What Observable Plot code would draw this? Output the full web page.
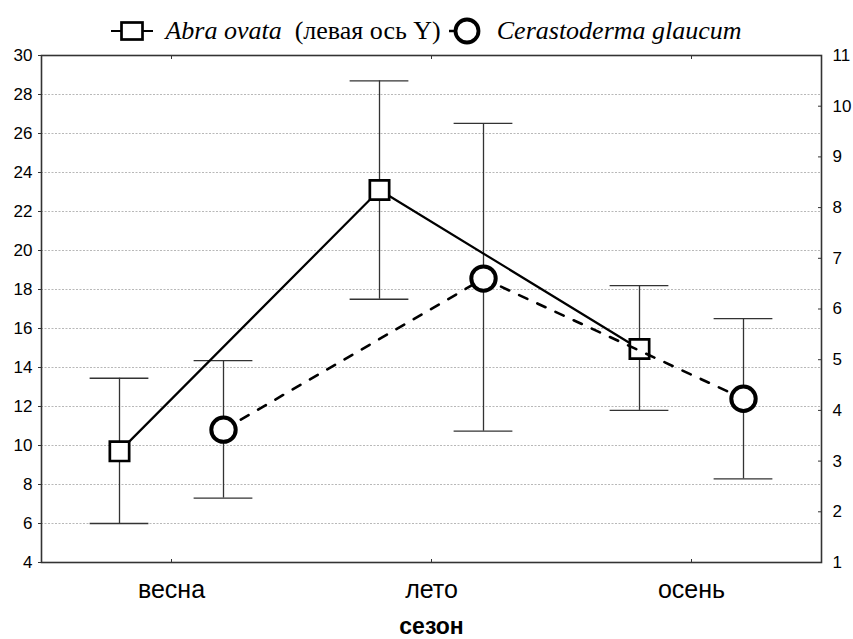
<!DOCTYPE html>
<html>
<head>
<meta charset="utf-8">
<script src="https://cdn.jsdelivr.net/npm/d3@7"></script>
<script src="https://cdn.jsdelivr.net/npm/@observablehq/plot@0.6"></script>
<style>
  html, body { margin: 0; padding: 0; background: #fff; }
  #legend {
    height: 45px; box-sizing: border-box; padding-top: 16px;
    display: flex; align-items: center; justify-content: center;
    font-family: "Liberation Serif", "Times New Roman", serif; font-size: 26px; color: #000;
    white-space: nowrap;
  }
  #legend i { font-style: italic; }
  #legend svg { display: block; }
  #chart svg { display: block; }
</style>
</head>
<body>
<div id="legend"></div>
<div id="chart"></div>
<script>
// ---- data ----
const seasons = ["весна", "лето", "осень"];
// Abra ovata (left Y axis): mean and whiskers
const abraMean = [9.7, 23.1, 14.95];
const abraLow  = [6.0, 17.5, 11.8];
const abraHigh = [13.45, 28.7, 18.2];
// Cerastoderma glaucum (right Y axis): mean and whiskers
const cerMean = [3.62, 6.6, 4.23];
const cerLow  = [2.27, 3.59, 2.65];
const cerHigh = [4.98, 9.66, 5.81];
// tick labels
const leftTicks = [4, 6, 8, 10, 12, 14, 16, 18, 20, 22, 24, 26, 28, 30];
const rightTicks = [1, 2, 3, 4, 5, 6, 7, 8, 9, 10, 11];
const seriesNames = ["Abra ovata", "Cerastoderma glaucum"];

// right axis [1, 11] maps onto left axis [4, 30]
const toLeft = r => 4 + ((r - 1) * 26) / 10;
const toRight = v => Math.round(((v - 4) * 10) / 26 + 1);

const abra = seasons.map((s, i) => ({i, s, mean: abraMean[i], lo: abraLow[i], hi: abraHigh[i]}));
const cer = seasons.map((s, i) => ({i, s, mean: toLeft(cerMean[i]), lo: toLeft(cerLow[i]), hi: toLeft(cerHigh[i])}));

const off = 0.2;    // series offset within a season (band fraction)
const cap = 0.113;  // half-width of whisker caps

const errColor = "#333";
function errorBars(data, dxo) {
  return [
    Plot.ruleX(data, {x: d => d.i + dxo, y1: "lo", y2: "hi", stroke: errColor, strokeWidth: 1.3}),
    Plot.ruleY(data, {y: "hi", x1: d => d.i + dxo - cap, x2: d => d.i + dxo + cap, stroke: errColor, strokeWidth: 1.3}),
    Plot.ruleY(data, {y: "lo", x1: d => d.i + dxo - cap, x2: d => d.i + dxo + cap, stroke: errColor, strokeWidth: 1.3})
  ];
}

const chart = Plot.plot({
  width: 853,
  height: 594,
  marginLeft: 41,
  marginRight: 32,
  marginTop: 10,
  marginBottom: 77,
  style: {fontFamily: '"Liberation Sans", Arial, sans-serif', fontSize: "17px", color: "#000", background: "#fff", overflow: "visible"},
  x: {domain: [-0.5, 2.5]},
  y: {domain: [4, 30]},
  marks: [
    Plot.ruleY(leftTicks.filter(v => v > 4 && v < 30), {stroke: "#b8b8b8", strokeWidth: 1, strokeDasharray: "2,1.5"}),
    ...errorBars(abra, -off),
    ...errorBars(cer, off),
    Plot.line(abra, {x: d => d.i - off, y: "mean", stroke: "#000", strokeWidth: 2.2}),
    Plot.dot(abra, {x: d => d.i - off, y: "mean", symbol: "square", r: 10.9, fill: "#fff", stroke: "#000", strokeWidth: 2.7}),
    Plot.line(cer, {x: d => d.i + off, y: "mean", stroke: "#000", strokeWidth: 2.6, strokeDasharray: "9,11"}),
    Plot.dot(cer, {x: d => d.i + off, y: "mean", r: 12.2, fill: "#fff", stroke: "#000", strokeWidth: 4}),
    Plot.frame({stroke: "#333", strokeWidth: 1.6}),
    Plot.axisY({ticks: leftTicks, tickSize: 3, tickPadding: 6, fontSize: 17, label: null, stroke: "#333"}),
    Plot.axisY({anchor: "right", ticks: rightTicks.map(toLeft), tickFormat: toRight, tickSize: -4, tickPadding: 15, fontSize: 17, label: null, stroke: "#333"}),
    Plot.axisX({ticks: [0, 1, 2], tickFormat: i => seasons[i], tickSize: -3, tickPadding: 21, fontSize: 25, label: null, stroke: "#333"}),
    Plot.axisX({anchor: "top", ticks: [0, 1, 2], tickFormat: () => "", tickSize: -3, label: null, stroke: "#333"}),
    Plot.text(["сезон"], {x: 1, frameAnchor: "bottom", dy: 71, text: d => d, fontSize: 23, fontWeight: "bold"})
  ]
});
document.getElementById("chart").appendChild(chart);

// ---- legend ----
const legend = document.getElementById("legend");
legend.innerHTML =
  `<svg width="42" height="26"><line x1="0" y1="13" x2="42" y2="13" stroke="#000" stroke-width="2.2"/>` +
  `<rect x="10.5" y="4.5" width="21" height="17" fill="#fff" stroke="#000" stroke-width="2.7"/></svg>` +
  `<span style="margin-left:12px"><i>${seriesNames[0]}</i>&nbsp; (левая ось Y)</span>` +
  `<svg width="34" height="30" style="margin-left:8px"><line x1="0" y1="15" x2="14" y2="15" stroke="#000" stroke-width="2.5"/>` +
  `<circle cx="18" cy="15" r="11.5" fill="#fff" stroke="#000" stroke-width="3.8"/></svg>` +
  `<span style="margin-left:14px"><i>${seriesNames[1]}</i></span>`;
</script>
</body>
</html>
